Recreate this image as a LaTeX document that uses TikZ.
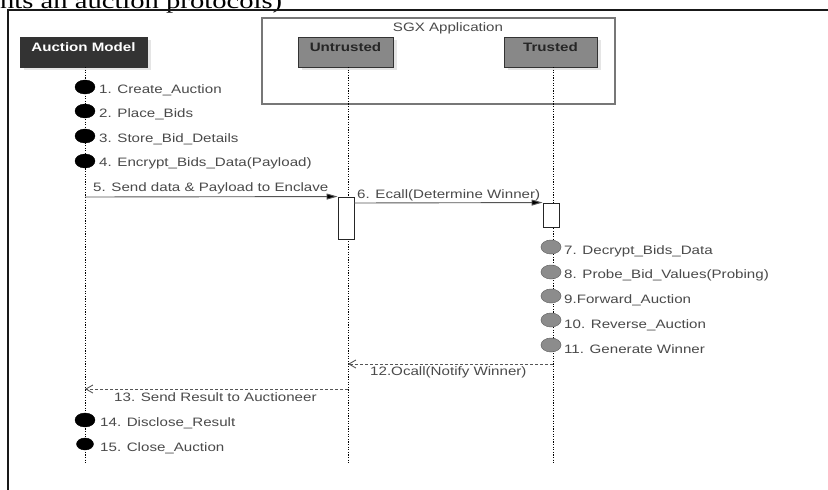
\documentclass[tikz,border=0pt]{standalone}
\usepackage{fontspec}
\setmainfont{Liberation Sans}
\newfontfamily\lab[FakeStretch=1.24]{Liberation Sans}
\newfontfamily\capfont[FakeStretch=1.3]{Liberation Serif}
\usetikzlibrary{arrows.meta,shapes.geometric}
\definecolor{txt}{HTML}{4A4A4A}
\definecolor{headdark}{HTML}{333333}
\definecolor{headgray}{HTML}{888888}
\definecolor{sgxline}{HTML}{777777}
\definecolor{msgline}{HTML}{555555}
\definecolor{evgray}{HTML}{8C8C8C}
\tikzset{
  lbl/.style={anchor=west,inner sep=0,text=txt,font=\lab\fontsize{12.2}{14}\selectfont},
  headbox/.style={draw=black!80,line width=0.8pt,minimum width=#1,inner xsep=0,inner ysep=0,
    text height=14pt,text depth=16pt,font=\lab\bfseries\fontsize{12.2}{14}\selectfont},
  shadowbox/.style={fill=black!10,draw=none,minimum width=#1,minimum height=30,inner sep=0},
  life/.style={draw=black,line width=0.8pt,dash pattern=on 1.2pt off 1.4pt},
  act/.style={draw=black!85,fill=white,line width=0.9pt,minimum width=16,inner sep=0},
  bev/.style={ellipse,fill=black,draw=black,minimum width=20,minimum height=14,inner sep=0},
  gev/.style={ellipse,fill=evgray,draw=black!60,line width=0.5pt,minimum width=20,minimum height=14,inner sep=0},
  msg/.style={draw=msgline,line width=0.9pt,-{Triangle[length=11pt,width=6pt,fill=black]}},
  ret/.style={draw=msgline,line width=0.9pt,dash pattern=on 3pt off 2pt,-{Straight Barb[length=7pt,width=8pt]}}
}
\begin{document}
\begin{tikzpicture}[x=1pt,y=-1pt]
\useasboundingbox (0,0) rectangle (828,490);
\clip (0,0) rectangle (828,490);
\fill[white] (0,0) rectangle (828,490);

% caption (cut off at top)
\node[anchor=base west,inner sep=0,font=\capfont\fontsize{22}{22}\selectfont] (cap) at (0,8.5) {nts an auction protocols)};

% outer frame
\draw[line width=2.4pt,black!90] (8,495) -- (8,10) -- (835,10);

% SGX application box
\node[draw=sgxline,line width=1.1pt,minimum width=353,minimum height=86,inner sep=0] (sgx) at (438.5,61) {};
\node[inner sep=0,text=txt,font=\lab\fontsize{12.2}{14}\selectfont] (sgxlab) at (448,28) {SGX Application};

% header shadows
\node[shadowbox=127] (ams) at (87.5,55) {};
\node[shadowbox=95] (uts) at (349.5,55) {};
\node[shadowbox=93] (trs) at (554.5,55) {};

% headers
\node[headbox=127,fill=headdark,text=white] (am) at (83.5,52) {Auction Model};
\node[headbox=95,fill=headgray,text=black!85] (ut) at (345.5,52) {Untrusted};
\node[headbox=93,fill=headgray,text=black!85] (tr) at (550.5,52) {Trusted};

% lifeline ends
\coordinate (amE) at (85,464);
\coordinate (utE) at (348,464);
\coordinate (trE) at (553,464);
\coordinate (amT) at (85,67);
\coordinate (utT) at (348,67);
\coordinate (trT) at (553,67);
\draw[life] (amT) -- (amE);
\draw[life] (utT) -- (utE);
\draw[life] (trT) -- (trE);

% activation boxes
\node[act,minimum height=42] (u1) at (346,218) {};
\node[act,minimum height=24] (t1) at (551,215) {};

% auction model events
\node[bev] (e1) at (85,87) {};
\node[bev] (e2) at (85,111) {};
\node[bev] (e3) at (85,136) {};
\node[bev] (e4) at (85,161) {};
\node[lbl] (l1) at (99,90) {1. Create\_Auction};
\node[lbl] (l2) at (99,114) {2. Place\_Bids};
\node[lbl] (l3) at (99,139) {3. Store\_Bid\_Details};
\node[lbl] (l4) at (99,163) {4. Encrypt\_Bids\_Data(Payload)};

% message 5
\coordinate (m5s) at (85,197);
\draw[msg] (m5s) -- (u1.north west);
\node[lbl] (l5) at (93,188) {5. Send data \& Payload to Enclave};

% message 6
\coordinate (m6s) at (354,203);
\draw[msg] (m6s) -- (t1.north west);
\node[lbl] (l6) at (357,195) {6. Ecall(Determine Winner)};

% trusted events
\node[gev] (g7) at (551,247) {};
\node[gev] (g8) at (551,272) {};
\node[gev] (g9) at (551,296) {};
\node[gev] (g10) at (551,320) {};
\node[gev] (g11) at (551,345) {};
\node[lbl] (l7) at (564,251) {7. Decrypt\_Bids\_Data};
\node[lbl] (l8) at (564,275) {8. Probe\_Bid\_Values(Probing)};
\node[lbl] (l9) at (564,300) {9.Forward\_Auction};
\node[lbl] (l10) at (564,325) {10. Reverse\_Auction};
\node[lbl] (l11) at (564,349) {11. Generate Winner};

% message 12
\coordinate (m12s) at (553,364);
\coordinate (m12e) at (348,364);
\draw[ret] (m12s) -- (m12e);
\node[lbl] (l12) at (370,372) {12.Ocall(Notify Winner)};

% message 13
\coordinate (m13s) at (348,389);
\coordinate (m13e) at (85,389);
\draw[ret] (m13s) -- (m13e);
\node[lbl] (l13) at (114,397) {13. Send Result to Auctioneer};

% final events
\node[bev] (e14) at (85,420) {};
\node[bev,minimum width=17,minimum height=12] (e15) at (85,444) {};
\node[lbl] (l14) at (100,423) {14. Disclose\_Result};
\node[lbl] (l15) at (100,448) {15. Close\_Auction};
\end{tikzpicture}
\end{document}
